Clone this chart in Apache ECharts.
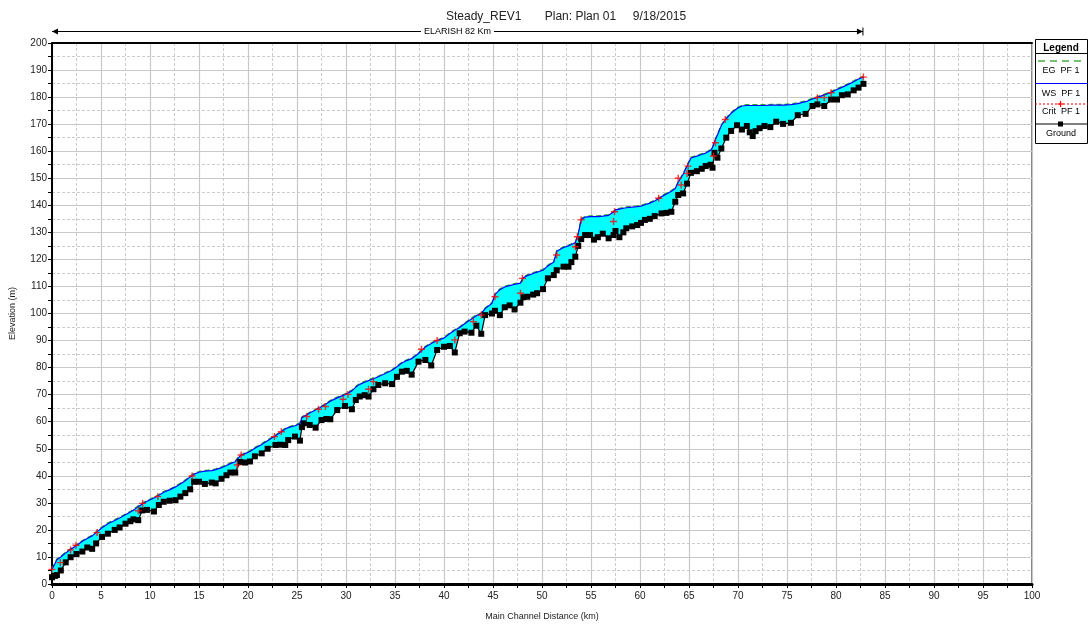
<!DOCTYPE html>
<html>
<head>
<meta charset="utf-8">
<script src="https://cdn.jsdelivr.net/npm/echarts@6/dist/echarts.min.js"></script>
<style>
html,body{margin:0;padding:0;background:#fff;}
#chart{width:1089px;height:626px;}
</style>
</head>
<body>
<div id="chart"></div>
<script>
// Main channel distance (km) of cross sections
const dist = [0.0,0.3,0.5,0.9,1.4,1.9,2.5,3.1,3.6,4.1,4.5,5.1,5.7,6.4,6.9,7.5,8.0,8.3,8.8,9.2,9.7,10.4,10.9,11.4,12.0,12.6,13.1,13.6,14.1,14.5,15.0,15.6,16.3,16.7,17.3,17.8,18.2,18.7,19.2,19.7,20.2,
20.7,21.4,22.0,22.8,23.3,23.8,24.1,24.8,25.3,25.5,25.7,26.3,26.9,27.5,28.0,28.4,29.1,29.9,30.6,31.0,31.4,31.9,32.3,32.8,33.3,34.0,34.7,35.2,35.7,36.2,36.7,37.4,38.1,38.7,39.3,40.0,40.6,41.1,41.6,42.1,42.8,43.3,43.8,44.2,44.9,
45.2,45.7,46.2,46.7,47.2,47.8,48.1,48.5,49.1,49.5,50.1,50.6,51.2,51.5,52.2,52.7,53.0,53.4,53.7,54.0,54.4,54.9,55.3,55.7,56.2,56.8,57.3,57.5,57.9,58.3,58.6,59.2,59.7,60.1,60.5,61.0,61.5,62.2,62.7,63.2,63.6,63.9,64.4,64.8,65.2,
65.8,66.3,66.7,67.2,67.4,67.6,67.9,68.3,68.8,69.3,69.9,70.4,70.9,71.2,71.5,71.8,72.2,72.7,73.3,73.9,74.6,75.4,76.1,76.9,77.6,78.1,78.8,79.5,80.1,80.6,81.2,81.8,82.3,82.8];

// Ground (channel invert) elevation (m)
const ground = [2.5,3.0,3.3,5.0,8.0,9.9,11.1,12.0,13.5,13.0,15.0,17.4,18.6,20.0,20.9,22.3,23.2,23.9,23.6,27.2,27.4,26.8,29.2,30.4,30.8,31.0,32.3,33.6,35.0,37.8,37.8,37.0,37.5,37.2,38.9,40.2,41.2,41.2,45.1,44.9,45.3,
47.2,48.3,50.0,51.4,51.5,51.4,53.2,54.5,53.0,58.0,59.4,58.8,57.8,60.6,61.0,60.9,64.3,65.8,64.6,68.0,69.3,69.8,69.3,72.0,73.6,74.2,73.9,76.6,78.5,78.8,77.4,82.2,82.8,80.8,86.5,87.7,88.0,85.6,92.7,93.3,92.9,95.5,92.5,99.4,100.0,
101.0,99.4,102.3,103.0,101.5,104.0,106.0,106.2,107.0,107.5,109.0,113.0,114.2,116.0,117.3,117.3,119.0,121.0,125.0,127.5,129.0,129.0,127.3,128.2,129.5,127.8,129.0,130.5,128.2,130.0,131.5,132.2,132.7,133.5,134.6,135.0,136.0,137.0,137.2,137.6,141.3,143.8,144.4,148.0,152.0,
152.6,153.5,154.5,155.0,153.9,159.4,157.6,161.0,165.0,167.5,169.6,168.0,169.3,167.0,165.6,167.4,168.5,169.3,168.9,170.9,170.1,170.5,173.3,173.8,176.7,177.3,176.7,179.1,179.1,180.7,181.0,182.5,183.5,184.9];

// Water surface PF 1 (m)
const ws = [5.5,7.5,9.0,10.0,11.5,12.8,14.2,15.8,16.8,17.8,19.0,20.8,22.3,23.5,24.4,25.6,26.6,27.3,28.6,29.6,30.6,31.8,32.8,33.9,34.8,35.9,37.0,38.2,39.6,40.6,41.3,41.7,41.9,42.3,43.0,43.8,44.5,45.2,47.4,48.2,49.0,
50.2,51.6,53.0,54.8,56.0,57.3,57.8,58.5,59.3,61.5,62.2,63.2,64.3,65.5,66.6,67.6,68.8,70.0,71.4,72.8,73.8,74.6,75.2,75.9,76.6,77.8,79.0,80.3,81.7,82.6,83.3,85.2,87.6,88.9,90.0,90.9,92.6,93.8,94.8,96.2,98.0,99.2,100.0,101.8,103.8,
107.0,108.8,109.8,110.3,110.8,111.2,113.2,114.0,114.8,115.3,116.0,117.6,119.0,123.0,124.4,125.0,125.5,126.2,129.5,134.8,135.6,135.8,135.8,135.8,136.0,136.3,137.5,138.3,138.6,138.9,139.1,139.3,139.5,139.7,140.2,140.8,141.6,143.2,144.2,145.2,146.2,148.5,151.5,154.5,157.5,
158.2,158.8,159.3,160.3,161.3,163.5,166.0,169.5,172.0,174.0,175.8,176.7,176.9,176.9,176.9,176.9,176.9,176.9,177.0,177.0,177.0,177.2,177.6,178.3,179.3,179.9,180.8,181.8,182.8,183.6,184.6,185.7,186.7,187.4];

// Energy grade line PF 1 (m)
const eg = [5.8,7.8,9.3,10.3,11.8,13.1,14.5,16.1,17.1,18.1,19.3,21.1,22.6,23.8,24.7,25.9,26.9,27.6,28.9,29.9,30.9,32.1,33.1,34.2,35.1,36.2,37.3,38.5,39.9,40.9,41.6,42.0,42.2,42.6,43.3,44.1,44.8,45.5,47.7,48.5,49.3,
50.5,51.9,53.3,55.1,56.3,57.6,58.1,58.8,59.6,61.8,62.5,63.5,64.6,65.8,66.9,67.9,69.1,70.3,71.7,73.1,74.1,74.9,75.5,76.2,76.9,78.1,79.3,80.6,82.0,82.9,83.6,85.5,87.9,89.2,90.3,91.2,92.9,94.1,95.1,96.5,98.3,99.5,100.3,102.1,104.1,
107.3,109.1,110.1,110.6,111.1,111.5,113.5,114.3,115.1,115.6,116.3,117.9,119.3,123.3,124.7,125.3,125.8,126.5,129.8,135.1,135.9,136.1,136.1,136.1,136.3,136.6,137.8,138.6,138.9,139.2,139.4,139.6,139.8,140.0,140.5,141.1,141.9,143.5,144.5,145.5,146.5,148.8,151.8,154.8,157.8,
158.5,159.1,159.6,160.6,161.6,163.8,166.3,169.8,172.3,174.3,176.1,177.0,177.2,177.2,177.2,177.2,177.2,177.2,177.3,177.3,177.3,177.5,177.9,178.6,179.6,180.2,181.1,182.1,183.1,183.9,184.9,186.0,187.0,187.7];

// Critical depth elevation PF 1 (only where computed)
const critDist = [0.0,0.85,1.9,2.45,4.6,8.8,9.25,10.8,14.3,18.9,19.3,22.7,23.4,26.0,27.2,27.9,29.7,30.2,32.3,32.8,37.7,39.3,41.1,43.0,43.8,45.2,47.8,48.0,51.5,53.4,53.6,54.0,57.3,57.4,61.9,63.9,64.2,64.8,64.9,67.5,67.7,68.7,78.1,78.8,79.5,82.8];
const critElev = [5.4,7.9,12.6,14.3,19.0,27.1,29.8,32.3,39.9,44.0,47.7,54.5,56.3,61.9,64.6,65.6,68.3,70.1,72.0,74.8,86.8,90.0,90.2,97.0,99.4,106.2,107.5,113.0,121.6,124.7,128.4,134.6,134.0,137.6,142.6,150.0,147.5,151.8,154.5,158.2,163.1,171.7,179.8,179.8,181.6,187.4];

// Reach annotation
const reachLabel = 'ELARISH 82 Km';
const reachStart = 0;
const reachEnd = 82.75;
const reachLevel = 204.4;

const titleText = 'Steady_REV1       Plan: Plan 01     9/18/2015';
const xName = 'Main Channel Distance (km)';
const yName = 'Elevation (m)';
const legendNames = ['EG  PF 1', 'WS  PF 1', 'Crit  PF 1', 'Ground'];

const FONT = '"Liberation Sans", Arial, sans-serif';

const groundPts = dist.map((d, i) => [d, ground[i]]);
const wsPts = dist.map((d, i) => [d, ws[i]]);
const egPts = dist.map((d, i) => [d, eg[i]]);
const critPts = critDist.map((d, i) => [d, critElev[i]]);
const fillRows = dist.map((d, i) => [d, ground[i], ws[i]]);

const plusPath = 'path://M4,0H6V4H10V6H6V10H4V6H0V4H4Z';

const chart = echarts.init(document.getElementById('chart'), null, {renderer: 'canvas'});

const legendGroup = {
  type: 'group', x: 1035, y: 39,
  children: [
    {type: 'rect', shape: {x: 0.5, y: 0.5, width: 52, height: 104}, style: {fill: '#fff', stroke: '#000', lineWidth: 1}},
    {type: 'text', x: 26, y: 9, style: {text: 'Legend', font: 'bold 10px ' + FONT, fill: '#000', align: 'center', verticalAlign: 'middle'}},
    {type: 'line', shape: {x1: 0, y1: 14.5, x2: 53, y2: 14.5}, style: {stroke: '#000', lineWidth: 1}},
    {type: 'line', shape: {x1: 3, y1: 22, x2: 51, y2: 22}, style: {stroke: '#44aa44', lineWidth: 1.5, lineDash: [7, 5]}},
    {type: 'text', x: 26, y: 32, style: {text: legendNames[0], font: '9px ' + FONT, fill: '#000', align: 'center', verticalAlign: 'middle'}},
    {type: 'line', shape: {x1: 0, y1: 44.5, x2: 53, y2: 44.5}, style: {stroke: '#0000ff', lineWidth: 1.2}},
    {type: 'text', x: 26, y: 55, style: {text: legendNames[1], font: '9px ' + FONT, fill: '#000', align: 'center', verticalAlign: 'middle'}},
    {type: 'line', shape: {x1: 0, y1: 65, x2: 53, y2: 65}, style: {stroke: '#ff0000', lineWidth: 1, lineDash: [2, 2]}},
    {type: 'line', shape: {x1: 25.5, y1: 62, x2: 25.5, y2: 68}, style: {stroke: '#ff0000', lineWidth: 1.2}},
    {type: 'line', shape: {x1: 22.5, y1: 65, x2: 28.5, y2: 65}, style: {stroke: '#ff0000', lineWidth: 1.2}},
    {type: 'text', x: 26, y: 73, style: {text: legendNames[2], font: '9px ' + FONT, fill: '#000', align: 'center', verticalAlign: 'middle'}},
    {type: 'line', shape: {x1: 0, y1: 85, x2: 53, y2: 85}, style: {stroke: '#000', lineWidth: 1.2}},
    {type: 'rect', shape: {x: 23, y: 82.5, width: 5, height: 5}, style: {fill: '#000'}},
    {type: 'text', x: 26, y: 95, style: {text: legendNames[3], font: '9px ' + FONT, fill: '#000', align: 'center', verticalAlign: 'middle'}}
  ]
};

const option = {
  animation: false,
  backgroundColor: '#fff',
  title: {
    text: titleText, left: 441, top: 6,
    textStyle: {fontSize: 12, fontWeight: 'normal', color: '#222', fontFamily: FONT}
  },
  grid: {left: 52, right: 57, top: 43, bottom: 42, show: true, borderColor: '#000', borderWidth: 1, backgroundColor: 'transparent'},
  xAxis: [{
    type: 'value', min: 0, max: 100, interval: 5,
    name: xName, nameLocation: 'middle', nameGap: 28,
    nameTextStyle: {fontSize: 9, color: '#222', fontFamily: FONT},
    axisLine: {show: true, onZero: false, lineStyle: {color: '#000', width: 3}},
    axisTick: {show: true, length: 4, lineStyle: {color: '#000', width: 1}},
    minorTick: {show: true, splitNumber: 2, length: 4, lineStyle: {color: '#000', width: 1}},
    axisLabel: {fontSize: 10, color: '#222', fontFamily: FONT, margin: 7},
    splitLine: {show: true, lineStyle: {color: '#c8c8c8', width: 1.2}},
    minorSplitLine: {show: true, lineStyle: {color: '#cccccc', width: 1, type: [3, 2]}}
  }, {
    type: 'value', min: 0, max: 100, position: 'top',
    axisLine: {show: true, onZero: false, lineStyle: {color: '#000', width: 2}},
    axisTick: {show: false}, axisLabel: {show: false}, splitLine: {show: false}
  }],
  yAxis: {
    type: 'value', min: 0, max: 200, interval: 10,
    name: yName, nameLocation: 'middle', nameGap: 35, nameRotate: 90,
    nameTextStyle: {fontSize: 9, color: '#222', fontFamily: FONT},
    axisLine: {show: true, onZero: false, lineStyle: {color: '#000', width: 2}},
    axisTick: {show: true, length: 4, lineStyle: {color: '#000', width: 1}},
    minorTick: {show: true, splitNumber: 2, length: 4, lineStyle: {color: '#000', width: 1}},
    axisLabel: {fontSize: 10, color: '#222', fontFamily: FONT, margin: 5},
    splitLine: {show: true, lineStyle: {color: '#c8c8c8', width: 1.2}},
    minorSplitLine: {show: true, lineStyle: {color: '#cccccc', width: 1, type: [3, 2]}}
  },
  graphic: [legendGroup],
  series: [
    {
      name: 'fill', type: 'custom', silent: true, z: 2,
      data: fillRows,
      encode: {x: 0, y: [1, 2]},
      renderItem: function (params, api) {
        if (params.dataIndex !== 0) return null;
        const top = [], bottom = [];
        for (let i = 0; i < fillRows.length; i++) {
          top.push(api.coord([fillRows[i][0], fillRows[i][2]]));
          bottom.push(api.coord([fillRows[i][0], fillRows[i][1]]));
        }
        return {
          type: 'polygon',
          shape: {points: top.concat(bottom.reverse())},
          style: {fill: '#00ffff', stroke: null}
        };
      }
    },
    {
      name: 'EG PF 1', type: 'line', data: egPts, symbol: 'none',
      lineStyle: {color: '#22aa22', width: 1.2, type: [5, 3]}, z: 3
    },
    {
      name: 'WS PF 1', type: 'line', data: wsPts, symbol: 'none',
      lineStyle: {color: '#0000ff', width: 1.2}, z: 4
    },
    {
      name: 'Ground', type: 'line', data: groundPts,
      symbol: 'rect', symbolSize: 6, showSymbol: true,
      itemStyle: {color: '#000'},
      lineStyle: {color: '#000', width: 1.2}, z: 5
    },
    {
      name: 'Crit PF 1', type: 'scatter', data: critPts,
      symbol: plusPath, symbolSize: 7,
      itemStyle: {color: '#ff0000'}, z: 6
    },
    {
      name: 'reach', type: 'custom', silent: true, clip: false, z: 10,
      data: [[reachStart, reachEnd, reachLevel]],
      encode: {x: [0, 1], y: 2},
      renderItem: function (params, api) {
        const p1 = api.coord([api.value(0), api.value(2)]);
        const p2 = api.coord([api.value(1), api.value(2)]);
        const y = Math.round(p1[1]) + 0.5;
        const midX = (p1[0] + p2[0]) / 2;
        return {
          type: 'group',
          children: [
            {type: 'line', shape: {x1: p1[0], y1: y, x2: p2[0], y2: y}, style: {stroke: '#000', lineWidth: 1}},
            {type: 'polygon', shape: {points: [[p1[0], y], [p1[0] + 6, y - 3], [p1[0] + 6, y + 3]]}, style: {fill: '#000'}},
            {type: 'polygon', shape: {points: [[p2[0], y], [p2[0] - 6, y - 3], [p2[0] - 6, y + 3]]}, style: {fill: '#000'}},
            {type: 'line', shape: {x1: p2[0], y1: y - 4, x2: p2[0], y2: y + 4}, style: {stroke: '#000', lineWidth: 1}},
            {type: 'text', x: midX, y: y, style: {text: reachLabel, font: '9px ' + FONT, fill: '#000', align: 'center', verticalAlign: 'middle', backgroundColor: '#fff', padding: [0, 3]}}
          ]
        };
      }
    }
  ]
};

chart.setOption(option);
</script>
</body>
</html>
